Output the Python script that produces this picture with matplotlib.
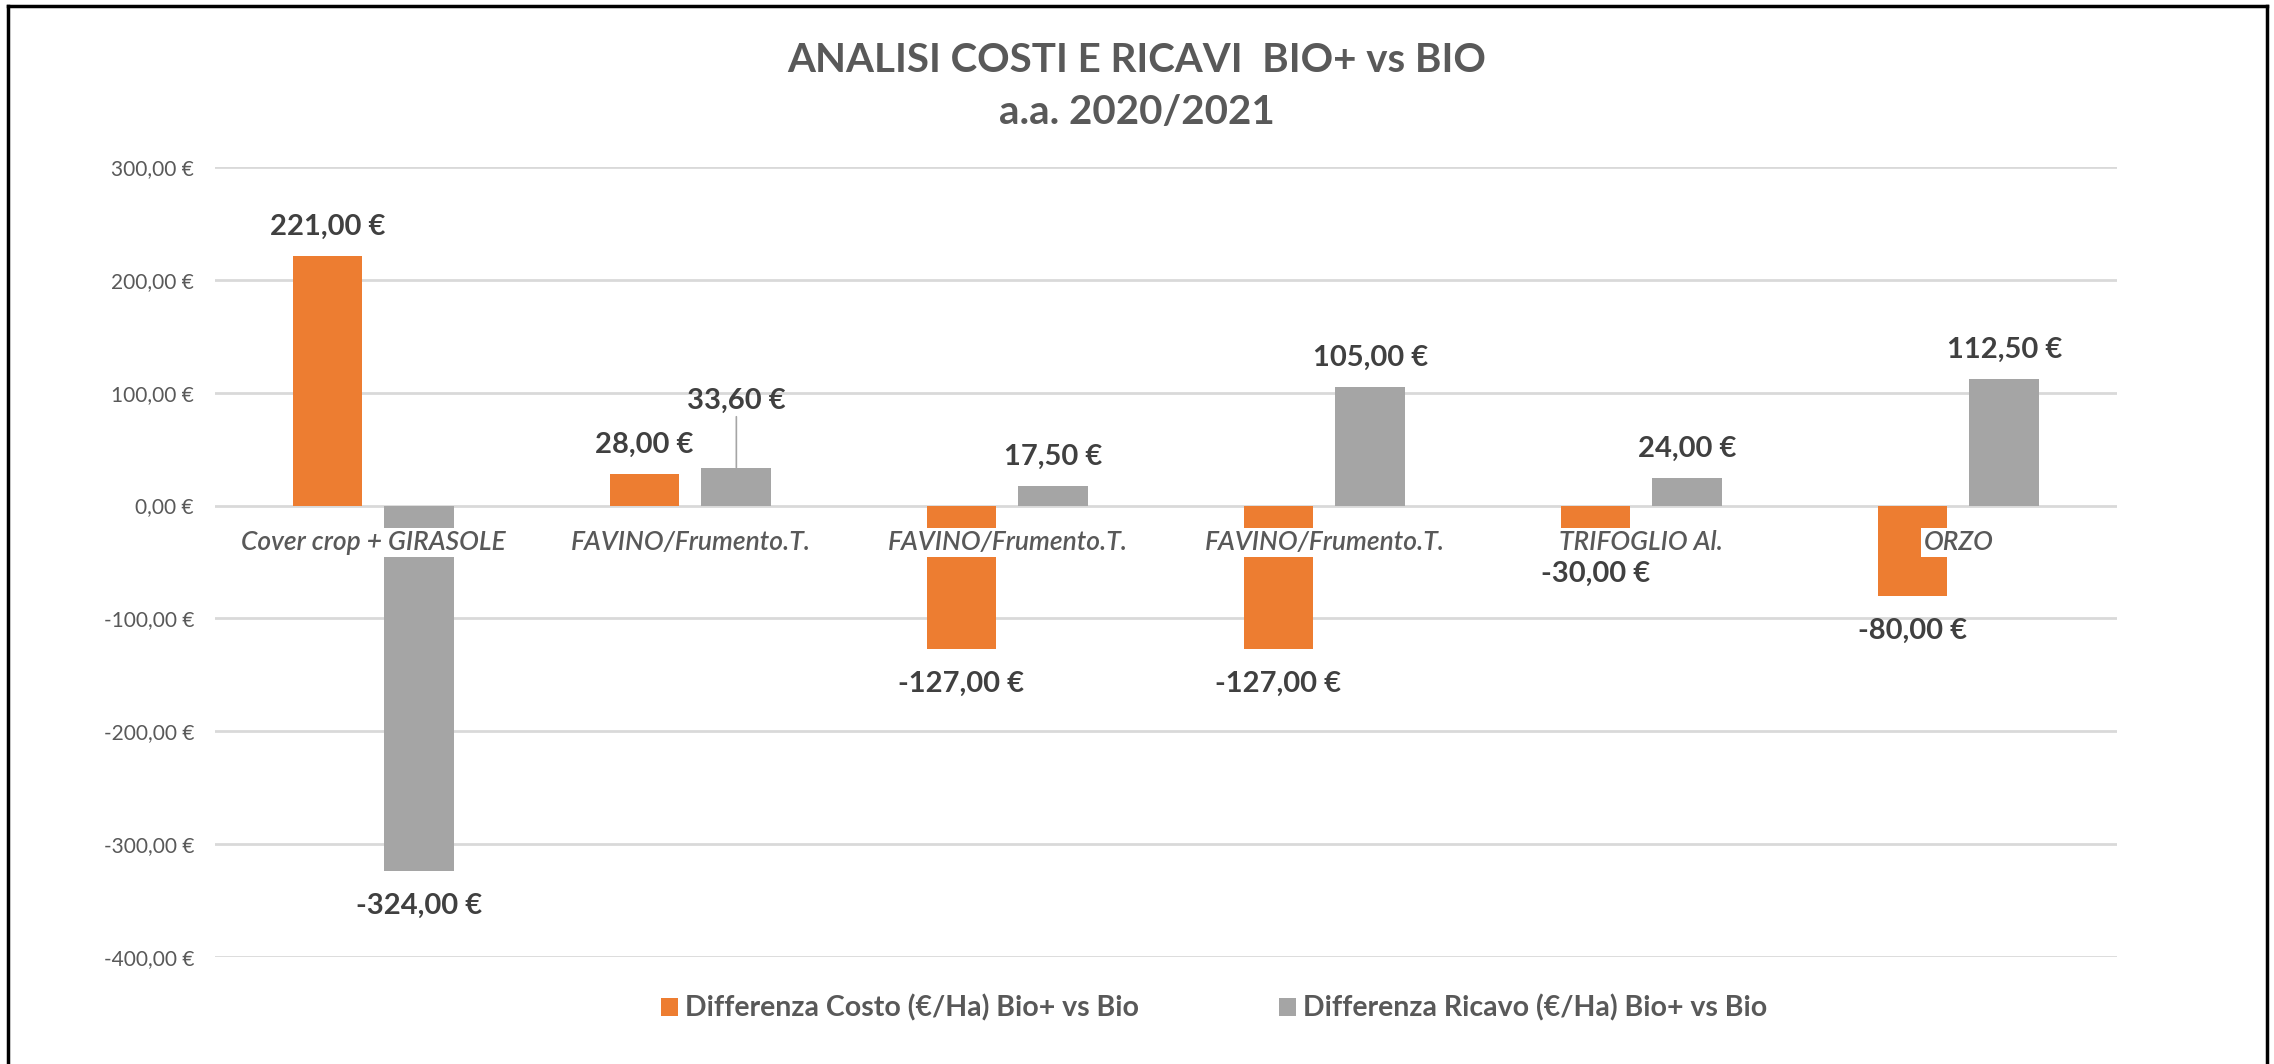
import matplotlib
matplotlib.use("Agg")
import matplotlib.pyplot as plt
from matplotlib.patches import Patch
from matplotlib.lines import Line2D
import numpy as np

categories = ["Cover crop + GIRASOLE", "FAVINO/Frumento.T.", "FAVINO/Frumento.T.",
              "FAVINO/Frumento.T.", "TRIFOGLIO Al.", "ORZO"]
costo = [221.00, 28.00, -127.00, -127.00, -30.00, -80.00]
ricavo = [-324.00, 33.60, 17.50, 105.00, 24.00, 112.50]
series_names = ["Differenza Costo (€/Ha) Bio+ vs Bio", "Differenza Ricavo (€/Ha) Bio+ vs Bio"]
title_lines = ["ANALISI COSTI E RICAVI  BIO+ vs BIO", "a.a. 2020/2021"]
yticks = [-400, -300, -200, -100, 0, 100, 200, 300]

ORANGE = "#ED7D31"
GRAY = "#A5A5A5"
TXT = "#595959"
LBL = "#404040"
FONT = ["Lato", "DejaVu Sans"]

plt.rcParams["font.family"] = FONT

def eur(v):
    return f"{v:.2f}".replace(".", ",") + " €"

fig = plt.figure(figsize=(22.74, 10.64), dpi=100)
ax = fig.add_axes([0.0945, 0.1006, 0.8364, 0.7425])

x = np.arange(len(categories))
w = 0.22
off = 0.145
ax.bar(x - off, costo, w, color=ORANGE, zorder=3)
ax.bar(x + off, ricavo, w, color=GRAY, zorder=3)

ax.set_xlim(-0.5, len(categories) - 0.5)
ax.set_ylim(-400, 300)
ax.set_yticks(yticks)
ax.set_yticklabels([eur(v) for v in yticks], color=TXT, fontsize=15)
ax.tick_params(axis="y", length=0, pad=15)
ax.set_xticks([])
for s in ax.spines.values():
    s.set_visible(False)
ax.yaxis.grid(True, color="#D9D9D9", linewidth=2, zorder=0)
ax.set_axisbelow(True)

LSIZE = 21

def add_labels(xs, vals, special=None):
    for xi, v in zip(xs, vals):
        dy = 21 if v >= 0 else -25
        if special is not None and xi == special:
            ax.annotate(eur(v), xy=(xi, v), xytext=(0, 48), textcoords="offset points",
                        ha="center", va="center", fontsize=LSIZE, fontweight="bold", color=LBL,
                        arrowprops=dict(arrowstyle="-", color=GRAY, lw=1.2, shrinkA=0, shrinkB=0),
                        zorder=5)
        else:
            ax.annotate(eur(v), xy=(xi, v), xytext=(0, dy), textcoords="offset points",
                        ha="center", va="center", fontsize=LSIZE, fontweight="bold", color=LBL,
                        zorder=5)

add_labels(x - off, costo)
add_labels(x + off, ricavo, special=(x + off)[1])

# category labels (white boxes over the bars)
for xi, lab in zip(x, categories):
    ax.text(xi, -32.7, lab, ha="center", va="center", fontsize=19, style="italic",
            fontweight="semibold", color=TXT, zorder=4,
            bbox=dict(facecolor="white", edgecolor="none", pad=1.5))

# title
fig.text(0.5, 0.9427, title_lines[0], ha="center", va="center", fontsize=29,
         fontweight="bold", color=TXT)
fig.text(0.5, 0.8938, title_lines[1], ha="center", va="center", fontsize=29,
         fontweight="bold", color=TXT)

# legend
handles = [Patch(facecolor=ORANGE, edgecolor="none"), Patch(facecolor=GRAY, edgecolor="none")]
leg = fig.legend(handles, series_names, loc="center", bbox_to_anchor=(0.534, 0.0525), ncol=2,
                 frameon=False, handlelength=0.6, handleheight=0.6,
                 handletextpad=0.25, columnspacing=4.9,
                 prop={"weight": "bold", "size": 20.5, "family": FONT})
for t in leg.get_texts():
    t.set_color(TXT)

# outer border (left, top, right)
fig.add_artist(Line2D([0.0035, 0.0035], [0.0, 0.994], transform=fig.transFigure, color="black", lw=2.5))
fig.add_artist(Line2D([0.0035, 0.997], [0.994, 0.994], transform=fig.transFigure, color="black", lw=2.5))
fig.add_artist(Line2D([0.997, 0.997], [0.0, 0.994], transform=fig.transFigure, color="black", lw=2.5))

fig.savefig("out.png", dpi=100, facecolor="white")
